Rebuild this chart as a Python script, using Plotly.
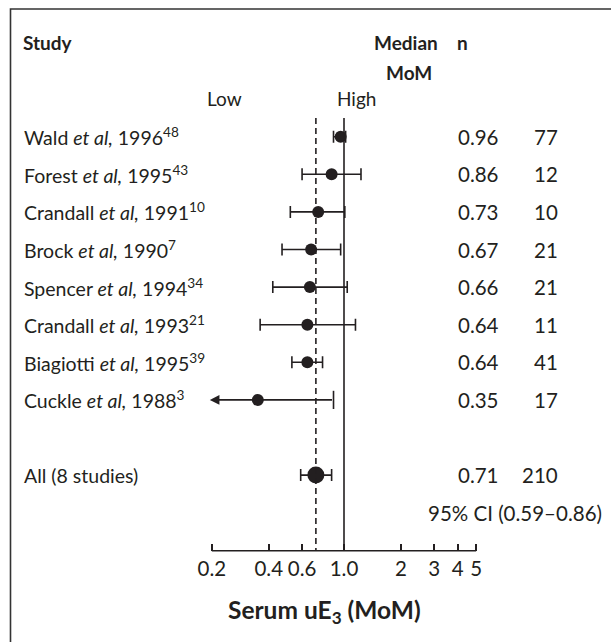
import math
import plotly.graph_objects as go

# ---------------- data ----------------
studies = [
    "Wald <i>et al,</i> 1996<sup>48</sup>",
    "Forest <i>et al,</i> 1995<sup>43</sup>",
    "Crandall <i>et al,</i> 1991<sup>10</sup>",
    "Brock <i>et al,</i> 1990<sup>7</sup>",
    "Spencer <i>et al,</i> 1994<sup>34</sup>",
    "Crandall <i>et al,</i> 1993<sup>21</sup>",
    "Biagiotti <i>et al,</i> 1995<sup>39</sup>",
    "Cuckle <i>et al,</i> 1988<sup>3</sup>",
]
medians = [0.96, 0.86, 0.73, 0.67, 0.66, 0.64, 0.64, 0.35]
lower_ci = [0.88, 0.60, 0.52, 0.47, 0.42, 0.36, 0.53, None]   # Cuckle lower bound off scale
upper_ci = [1.02, 1.23, 1.01, 0.96, 1.04, 1.15, 0.77, 0.88]
n_women = [77, 12, 10, 21, 21, 11, 41, 17]
cuckle_arrow_to = 0.195

all_label = "All (8 studies)"
all_median = 0.71
all_lower = 0.59
all_upper = 0.86
all_n = 210
ci_text = "95% CI (0.59–0.86)"

tick_vals = [0.2, 0.4, 0.6, 1.0, 2, 3, 4, 5]
tick_text = ["0.2", "0.4", "0.6", "1.0", "2", "3", "4", "5"]
axis_min, axis_max = 0.2, 5

# ---------------- layout helpers ----------------
W, H = 611, 642
INK = "#231f20"
FONT = "Lato"
FS_LAB = 19.5
FS_HEAD = 19
FS_NUM = 20.5
FS_TITLE = 24.5

def px(x):
    return x / W

def py(y):
    return 1 - y / H

# x pixel = X0 + XS*log10(v)
X0, XS = 344.0, 189.0
x_range = [(0 - X0) / XS, (W - X0) / XS]
# row i at pixel Y0 + YS*i
Y0, YS = 136.7, 37.6
y_range = [(H - Y0) / YS, (0 - Y0) / YS]
AXIS_Y = 550.7
axis_row = (AXIS_Y - Y0) / YS
all_row = len(studies) + 1
ci_row = all_row + 1

fig = go.Figure()

# studies with both CI ends on scale
idx = [i for i in range(len(studies)) if lower_ci[i] is not None]
fig.add_trace(go.Scatter(
    x=[medians[i] for i in idx],
    y=idx,
    mode="markers",
    marker=dict(size=12, color=INK, symbol="circle"),
    error_x=dict(
        type="data", symmetric=False,
        array=[upper_ci[i] - medians[i] for i in idx],
        arrayminus=[medians[i] - lower_ci[i] for i in idx],
        color=INK, thickness=1.6, width=6,
    ),
    cliponaxis=False, showlegend=False, hoverinfo="skip",
))

# Cuckle: open-ended lower bound -> arrow, plus upper cap
ck = [i for i in range(len(studies)) if lower_ci[i] is None]
annotations = []
for i in ck:
    annotations.append(dict(
        x=math.log10(cuckle_arrow_to), y=i, xref="x", yref="y",
        ax=math.log10(upper_ci[i]), ay=i, axref="x", ayref="y",
        text="", showarrow=True, arrowhead=2, arrowsize=1.2,
        arrowwidth=1.6, arrowcolor=INK, standoff=0, startstandoff=0,
    ))
fig.add_trace(go.Scatter(
    x=[upper_ci[i] for i in ck], y=ck, mode="markers",
    marker=dict(symbol="line-ns", size=13, line=dict(width=1.6, color=INK)),
    cliponaxis=False, showlegend=False, hoverinfo="skip",
))
fig.add_trace(go.Scatter(
    x=[medians[i] for i in ck], y=ck, mode="markers",
    marker=dict(size=12, color=INK),
    cliponaxis=False, showlegend=False, hoverinfo="skip",
))

# pooled estimate
fig.add_trace(go.Scatter(
    x=[all_median], y=[all_row], mode="markers",
    marker=dict(size=17, color=INK),
    error_x=dict(type="data", symmetric=False,
                 array=[all_upper - all_median],
                 arrayminus=[all_median - all_lower],
                 color=INK, thickness=1.6, width=6),
    cliponaxis=False, showlegend=False, hoverinfo="skip",
))

# reference lines and axis line
shapes = [
    dict(type="line", xref="x", yref="y", x0=1.0, x1=1.0, y0=-0.5, y1=axis_row,
         line=dict(color=INK, width=1.6)),
    dict(type="line", xref="x", yref="y", x0=all_median, x1=all_median, y0=-0.5, y1=axis_row,
         line=dict(color=INK, width=1.6, dash="6px,4px")),
    dict(type="line", xref="x", yref="paper", x0=axis_min, x1=axis_max,
         y0=py(AXIS_Y), y1=py(AXIS_Y), line=dict(color=INK, width=1.6)),
    dict(type="rect", xref="paper", yref="paper", x0=px(10.5), x1=1.02,
         y0=-0.02, y1=py(9), line=dict(color="#333333", width=1.6)),
]

def add_text(text, x, y, xanchor="center", xref="paper", yref="paper", size=FS_LAB):
    annotations.append(dict(text=text, x=x, y=y, xref=xref, yref=yref,
                            xanchor=xanchor, yanchor="middle", showarrow=False,
                            font=dict(family=FONT, size=size, color=INK)))

# headers
add_text("<b>Study</b>", px(21), py(43), "left", size=FS_HEAD)
add_text("<b>Median</b>", px(406), py(43), size=FS_HEAD)
add_text("<b>MoM</b>", px(409), py(72), size=FS_HEAD)
add_text("<b>n</b>", px(462.5), py(43), size=FS_HEAD)
add_text("Low", px(224), py(98), size=FS_HEAD)
add_text("High", px(356), py(98), size=FS_HEAD)

# rows
for i, lab in enumerate(studies):
    add_text(lab, px(22), i, "left", yref="y")
    add_text(f"{medians[i]:.2f}", px(456), i, "left", yref="y", size=FS_NUM)
    add_text(str(n_women[i]), px(560), i, "right", yref="y", size=FS_NUM)
add_text(all_label, px(22), all_row, "left", yref="y")
add_text(f"{all_median:.2f}", px(456), all_row, "left", yref="y", size=FS_NUM)
add_text(str(all_n), px(560), all_row, "right", yref="y", size=FS_NUM)
add_text(ci_text, px(604), ci_row, "right", yref="y", size=FS_NUM)

# axis title
add_text("<b>Serum uE<sub>3</sub> (MoM)</b>", px(324), py(611), size=FS_TITLE)

fig.update_layout(
    width=W, height=H,
    margin=dict(l=0, r=0, t=0, b=0),
    paper_bgcolor="white", plot_bgcolor="white",
    font=dict(family=FONT, size=FS_LAB, color=INK),
    shapes=shapes,
    annotations=annotations,
    xaxis=dict(type="log", range=x_range, domain=[0, 1],
               tickvals=tick_vals, ticktext=tick_text,
               ticks="inside", ticklen=7, tickwidth=1.6, tickcolor=INK,
               showgrid=False, zeroline=False, showline=False,
               anchor="free", position=py(AXIS_Y),
               ticklabelstandoff=4,
               tickfont=dict(family=FONT, size=FS_NUM, color=INK),
               fixedrange=True),
    yaxis=dict(range=y_range, domain=[0, 1], visible=False, fixedrange=True),
)

fig.write_html("out.html")
